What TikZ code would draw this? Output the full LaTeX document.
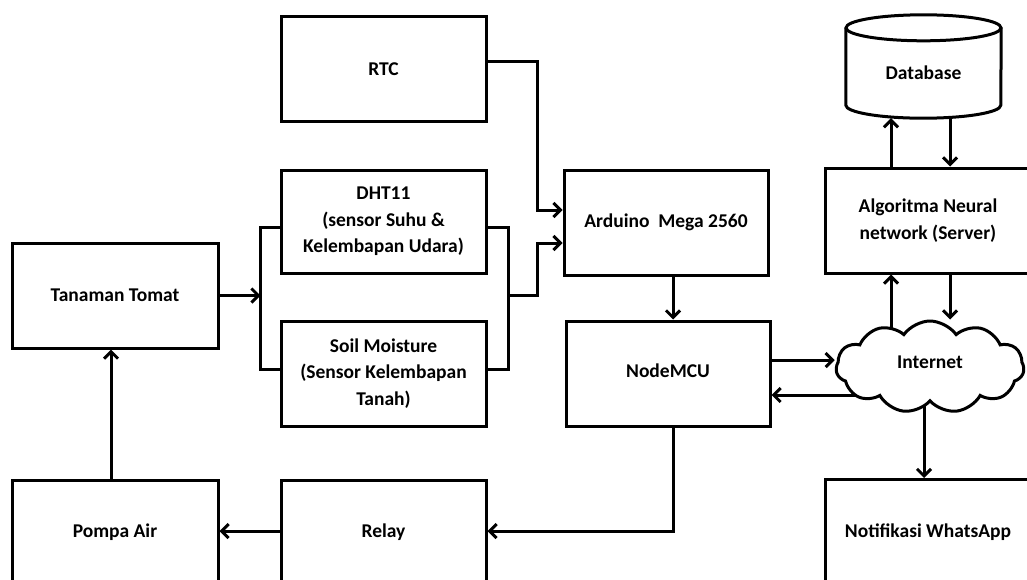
\documentclass[tikz,border=0pt]{standalone}
\usepackage{fontspec}
\setmainfont{Carlito}
\usetikzlibrary{arrows.meta,shapes.symbols,backgrounds,calc}
\begin{document}
\begin{tikzpicture}[x=1pt,y=-1pt,
  lw/.style={line width=3pt},
  box/.style={draw,lw,minimum width=205pt,minimum height=105pt,align=center,inner sep=2pt,
    font=\fontsize{19.5}{26.5}\selectfont\bfseries},
  arr/.style={lw,-{Straight Barb[length=7pt,width=14pt]}},
  con/.style={lw}]
\useasboundingbox (0,0) rectangle (1027,579);
\clip (0,0) rectangle (1027,579);
% nodes
\node[box] (rtc) at (383.5,69) {RTC};
\node[box,minimum height=103pt] (dht) at (383.5,221.5) {DHT11\\(sensor Suhu \&\\Kelembapan Udara)};
\node[box] (soil) at (383.5,373.5) {Soil Moisture\\(Sensor Kelembapan\\Tanah)};
\node[box,minimum width=206pt] (tomat) at (115,295.5) {Tanaman Tomat};
\node[box,minimum width=206pt] (pompa) at (115,532.5) {\raisebox{2pt}{Pompa Air}};
\node[box] (relay) at (383.5,532.5) {\raisebox{2pt}{Relay}};
\node[box,minimum width=204pt] (ard) at (666,222.5) {\raisebox{4pt}{Arduino\ \ Mega 2560}};
\node[box,minimum width=204pt] (mcu) at (668,373.5) {\raisebox{6pt}{NodeMCU}};
\node[box,minimum width=206pt] (algo) at (928,220.5) {Algoritma Neural\\network (Server)};
\node[box,minimum width=206pt] (notif) at (928,532) {\raisebox{2pt}{Notifikasi WhatsApp}};
\node[cloud,draw,lw,fill=white,cloud puffs=11,cloud puff arc=110,aspect=2.1,
  minimum width=188pt,minimum height=92pt,inner sep=0pt,
  font=\fontsize{19.5}{26.5}\selectfont\bfseries] (cloud) at (930,367) {\raisebox{9pt}{Internet}};
% database cylinder
\node[minimum width=155pt,minimum height=103pt,inner sep=0pt] (db) at (923.5,66.5) {};
\draw[lw] ([yshift=-13pt]db.north) ellipse [x radius=77.5pt, y radius=13pt];
\draw[lw] ([yshift=-13pt]db.north west) -- ([yshift=13pt]db.south west)
  arc[start angle=180,end angle=360,x radius=77.5pt,y radius=13pt] -- ([yshift=-13pt]db.north east);
\node[font=\fontsize{19.5}{26.5}\selectfont\bfseries] (dbtext) at ([yshift=-6.5pt]db.center) {Database};
% connectors
\draw[arr] ([yshift=8pt]rtc.east) -- ++(50,0) |- ([yshift=12.5pt]ard.west);
\draw[con] ([yshift=-5.5pt]dht.east) -- ++(21,0) coordinate (rb) |- ([yshift=4.5pt]soil.east);
\draw[arr] (rb |- tomat.east) -- ++(29,0) |- ([yshift=-20.5pt]ard.west);
\draw[con] ([yshift=-5.5pt]dht.west) -- ++(-19,0) coordinate (lb) |- ([yshift=4.5pt]soil.west);
\draw[arr] (tomat.east) -- (lb |- tomat.east);
\draw[arr] ([xshift=7pt]ard.south) -- ([xshift=7pt]ard.south |- mcu.north);
\coordinate (m1) at ([yshift=13.5pt]mcu.east);
\coordinate (m2) at ([yshift=-21.5pt]mcu.east);
\draw[arr] (m1) -- (m1 -| cloud.west);
\draw[arr] ([xshift=5pt]mcu.south) |- ([yshift=1.5pt]relay.east);
\draw[arr] ([yshift=1.5pt]relay.west) -- ([yshift=1.5pt]pompa.east);
\draw[arr] ([xshift=-4pt]pompa.north) -- ([xshift=-4pt]tomat.south);
\draw[arr] ([xshift=22pt]algo.south) -- ([xshift=22pt]algo.south |- cloud.north);
\draw[arr] ([xshift=-37pt]algo.north) -- ([xshift=-37pt]algo.north |- db.south);
\draw[arr] ([xshift=22pt]algo.north |- db.south) -- ([xshift=22pt]algo.north);
\begin{scope}[on background layer]
\draw[arr] (cloud.center |- m2) -- (m2);
\draw[arr] ([xshift=-4pt]notif.north |- cloud.center) -- ([xshift=-4pt]notif.north);
\draw[arr] ([xshift=-37pt]algo.south |- cloud.center) -- ([xshift=-37pt]algo.south);
\end{scope}
\end{tikzpicture}
\end{document}
